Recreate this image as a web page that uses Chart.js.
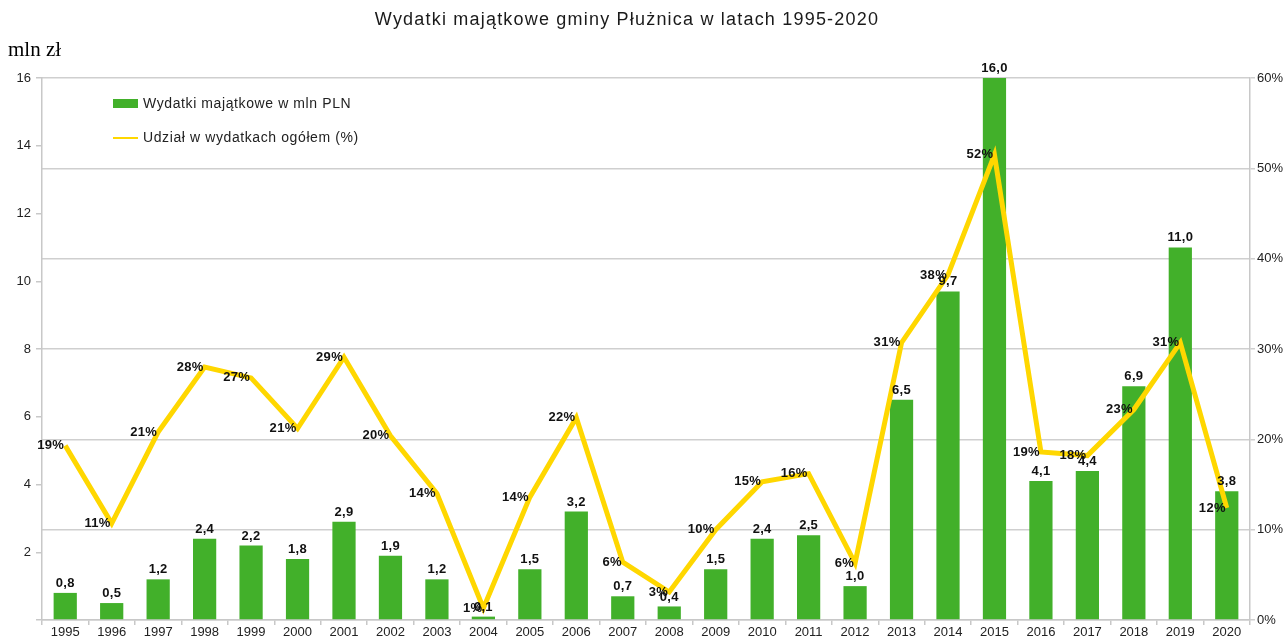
<!DOCTYPE html>
<html><head><meta charset="utf-8">
<script src="https://cdn.jsdelivr.net/npm/chart.js@4.4.1/dist/chart.umd.min.js"></script>
<style>html,body{margin:0;padding:0;background:#fff;}canvas{display:block;}</style>
</head><body>
<canvas id="c" width="1286" height="638"></canvas>
<script>
const years = ['1995','1996','1997','1998','1999','2000','2001','2002','2003','2004','2005','2006','2007','2008','2009','2010','2011','2012','2013','2014','2015','2016','2017','2018','2019','2020'];
const expenditure = [0.8,0.5,1.2,2.4,2.2,1.8,2.9,1.9,1.2,0.1,1.5,3.2,0.7,0.4,1.5,2.4,2.5,1.0,6.5,9.7,16.0,4.1,4.4,6.9,11.0,3.8];
const sharePct = [19.3,10.7,20.8,28.0,26.8,21.2,29.1,20.4,14.0,1.3,13.6,22.4,6.4,3.1,10.0,15.3,16.2,6.3,30.7,38.2,51.5,18.6,18.2,23.3,30.7,12.4];
const shareLabels = ['19%','11%','21%','28%','27%','21%','29%','20%','14%','1%','14%','22%','6%','3%','10%','15%','16%','6%','31%','38%','52%','19%','18%','23%','31%','12%'];
const leftTicks = [2,4,6,8,10,12,14,16];
const rightTicks = [0,10,20,30,40,50,60];

const GREEN = '#42b02a';
const GOLD = '#ffd700';
const FONT = "'Liberation Sans', Arial, sans-serif";

const labelPlugin = {
  id: 'labels',
  afterDatasetsDraw(chart) {
    const ctx = chart.ctx;
    ctx.save();
    ctx.fillStyle = '#111';
    ctx.font = 'bold 13px ' + FONT;
    ctx.letterSpacing = '0.3px';
    const bm = chart.getDatasetMeta(1);
    ctx.textAlign = 'center';
    ctx.textBaseline = 'bottom';
    bm.data.forEach((el, i) => {
      ctx.fillText(expenditure[i].toFixed(1).replace('.', ','), el.x, el.y - 3);
    });
    const lm = chart.getDatasetMeta(0);
    ctx.textAlign = 'right';
    ctx.textBaseline = 'middle';
    lm.data.forEach((el, i) => {
      ctx.fillText(shareLabels[i], el.x - 1, el.y);
    });
    ctx.restore();
  },
  afterDraw(chart) {
    const ctx = chart.ctx;
    ctx.save();
    ctx.fillStyle = '#1a1a1a';
    ctx.font = '18px ' + FONT;
    ctx.letterSpacing = '1.2px';
    ctx.textAlign = 'center';
    ctx.textBaseline = 'middle';
    ctx.fillText('Wydatki majątkowe gminy Płużnica w latach 1995-2020', 627, 20);
    ctx.letterSpacing = '0px';
    ctx.font = "21px 'Liberation Serif', 'DejaVu Serif', serif";
    ctx.textAlign = 'left';
    ctx.fillStyle = '#000';
    ctx.fillText('mln zł', 8, 50);
    ctx.fillStyle = GREEN;
    ctx.fillRect(113, 99, 25, 9);
    ctx.strokeStyle = GOLD;
    ctx.lineWidth = 2;
    ctx.beginPath(); ctx.moveTo(113, 138); ctx.lineTo(138, 138); ctx.stroke();
    ctx.fillStyle = '#222';
    ctx.font = '14px ' + FONT;
    ctx.letterSpacing = '0.6px';
    ctx.textBaseline = 'middle';
    ctx.fillText('Wydatki majątkowe w mln PLN', 143, 104);
    ctx.fillText('Udział w wydatkach ogółem (%)', 143, 138);
    ctx.restore();
  }
};

new Chart(document.getElementById('c'), {
  data: {
    labels: years,
    datasets: [
      { type: 'line', label: 'Udział w wydatkach ogółem (%)', data: sharePct, yAxisID: 'y1',
        borderColor: GOLD, borderWidth: 5, pointRadius: 0, tension: 0, order: 0 },
      { type: 'bar', label: 'Wydatki majątkowe w mln PLN', data: expenditure, yAxisID: 'y',
        backgroundColor: GREEN, barPercentage: 0.5, categoryPercentage: 1.0, order: 1 }
    ]
  },
  options: {
    responsive: false,
    animation: false,
    layout: { padding: { top: 78, left: 0, right: 0, bottom: 0 } },
    plugins: { legend: { display: false }, title: { display: false }, tooltip: { enabled: false } },
    scales: {
      x: {
        offset: true,
        grid: { offset: true, drawOnChartArea: false, color: '#c8c8c8', tickLength: 5, lineWidth: 1.5 },
        border: { color: '#c8c8c8', width: 1.5 },
        ticks: { color: '#222', font: { family: FONT, size: 13 }, padding: 0, maxRotation: 0, autoSkip: false },
        afterFit(s) { s.height = 18; }
      },
      y: {
        position: 'left', min: 0, max: 16,
        afterBuildTicks(s) { s.ticks = [0].concat(leftTicks).map(v => ({ value: v })); },
        grid: { drawOnChartArea: false, color: '#c8c8c8', tickLength: 6, lineWidth: 1.5 },
        border: { color: '#c8c8c8', width: 1.5 },
        ticks: { color: '#222', font: { family: FONT, size: 13 }, padding: 5,
          callback: v => v === 0 ? '' : String(v) },
        afterFit(s) { s.width = 42; }
      },
      y1: {
        position: 'right', min: 0, max: 60,
        afterBuildTicks(s) { s.ticks = rightTicks.map(v => ({ value: v })); },
        grid: { drawOnChartArea: true, color: '#cfcfcf', tickLength: 5, lineWidth: 1.5 },
        border: { color: '#c8c8c8', width: 1.5 },
        ticks: { color: '#222', font: { family: FONT, size: 13 }, padding: 2, callback: v => v + '%' },
        afterFit(s) { s.width = 36; }
      }
    }
  },
  plugins: [labelPlugin]
});
</script>
</body></html>
